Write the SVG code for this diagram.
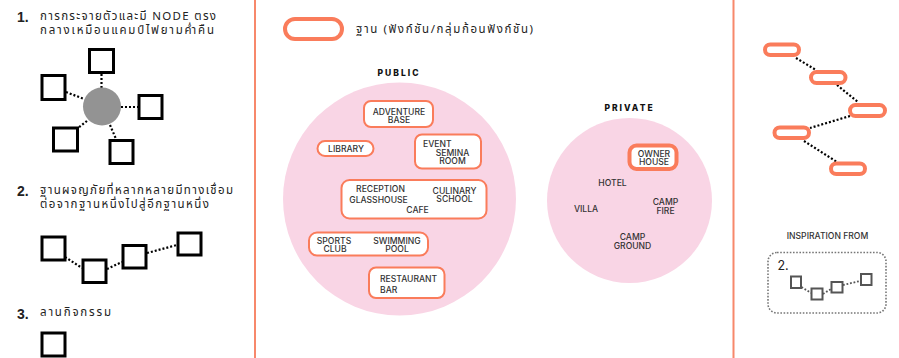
<svg xmlns="http://www.w3.org/2000/svg" width="899" height="358" viewBox="0 0 899 358">
<style>
.num{font-family:"Liberation Sans",Arial,sans-serif;font-weight:bold;font-size:14px;fill:#222}
.th{font-family:"Noto Sans Thai","Noto Sans","DejaVu Sans",sans-serif;font-size:11.5px;fill:#222}
.sq{fill:#fff;stroke:#000;stroke-width:3}
.dot{stroke:#000;stroke-width:2.2;stroke-dasharray:2 2;fill:none}
.pill{fill:#fff;stroke:#fa7c5b;stroke-width:2}
.pillr{fill:#fff;stroke:#fa7c5b;stroke-width:4}
.lbl{font-family:Inter,"Noto Sans",sans-serif;font-weight:500;font-size:8.6px;fill:#333;text-anchor:middle}
.lbll{font-family:Inter,"Noto Sans",sans-serif;font-weight:500;font-size:8.6px;fill:#333}
.head{font-family:Inter,"Noto Sans",sans-serif;font-weight:800;font-size:8.5px;letter-spacing:2px;fill:#111;text-anchor:middle}
.zone{fill:#f9d5e5}
.gsq{fill:#fff;stroke:#555;stroke-width:2}
.gdot{stroke:#555;stroke-width:1.8;stroke-dasharray:1.8 1.8;fill:none}
</style>

<!-- dividers -->
<g id="dividers">
<line x1="255" y1="0" x2="255" y2="358" stroke="#f7886b" stroke-width="2"/>
<line x1="733.5" y1="0" x2="733.5" y2="358" stroke="#f7886b" stroke-width="2"/>
</g>

<!-- section 1 -->
<g id="sec1">
<text class="num" x="17" y="22">1.</text>
<text class="th" x="40" y="20" textLength="176" lengthAdjust="spacing">การกระจายตัวและมี NODE ตรง</text>
<text class="th" x="40" y="34" textLength="174" lengthAdjust="spacing">กลางเหมือนแคมป์ไฟยามค่ำคืน</text>
</g>
<g id="star-connectors">
<line class="dot" x1="101.5" y1="74" x2="101.5" y2="88"/>
<line class="dot" x1="66" y1="92" x2="84" y2="99"/>
<line class="dot" x1="121" y1="107" x2="138" y2="107"/>
<line class="dot" x1="87" y1="121" x2="78" y2="128"/>
<line class="dot" x1="110" y1="125" x2="116" y2="139"/>
</g>
<g id="star-hub"><circle cx="102" cy="106.5" r="19" fill="#939393"/></g>
<g id="star-n1"><rect class="sq" x="89.5" y="49.5" width="24" height="23"/></g>
<g id="star-n2"><rect class="sq" x="42" y="75.5" width="23" height="24"/></g>
<g id="star-n3"><rect class="sq" x="139" y="95.5" width="23" height="23"/></g>
<g id="star-n4"><rect class="sq" x="53.5" y="128" width="24" height="23"/></g>
<g id="star-n5"><rect class="sq" x="110" y="140.5" width="23" height="23"/></g>

<!-- section 2 -->
<g id="sec2">
<text class="num" x="17" y="196">2.</text>
<text class="th" x="40" y="194" textLength="193" lengthAdjust="spacing">ฐานผจญภัยที่หลากหลายมีทางเชื่อม</text>
<text class="th" x="40" y="208" textLength="169" lengthAdjust="spacing">ต่อจากฐานหนึ่งไปสู่อีกฐานหนึ่ง</text>
</g>
<g id="chain-connectors">
<line class="dot" x1="65" y1="257" x2="82" y2="268"/>
<line class="dot" x1="107" y1="269" x2="122" y2="262"/>
<line class="dot" x1="147" y1="253" x2="177" y2="245"/>
</g>
<g id="chain-n1"><rect class="sq" x="42" y="237" width="23" height="23"/></g>
<g id="chain-n2"><rect class="sq" x="83" y="260" width="23" height="22.5"/></g>
<g id="chain-n3"><rect class="sq" x="123" y="245.5" width="23" height="22.5"/></g>
<g id="chain-n4"><rect class="sq" x="178" y="233" width="23" height="22"/></g>

<!-- section 3 -->
<g id="sec3">
<text class="num" x="17" y="319">3.</text>
<text class="th" x="40" y="316" textLength="71" lengthAdjust="spacing">ลานกิจกรรม</text>
</g>
<g id="plaza"><rect class="sq" x="42" y="333" width="23" height="23"/></g>

<!-- legend -->
<g id="legend">
<rect class="pillr" x="285" y="19" width="57" height="20" rx="10"/>
<text class="th" x="356" y="33" font-size="12.5" textLength="177" lengthAdjust="spacing">ฐาน (ฟังก์ชัน/กลุ่มก้อนฟังก์ชัน)</text>
</g>

<!-- public zone -->
<g id="public">
<text class="head" x="399" y="76">PUBLIC</text>
<circle class="zone" cx="399.5" cy="199" r="116.5"/>
</g>
<g id="adventure">
<rect class="pill" x="364" y="101" width="69" height="26" rx="7"/>
<text class="lbl" x="399" y="115">ADVENTURE</text>
<text class="lbl" x="399" y="122.5">BASE</text>
</g>
<g id="library">
<rect class="pill" x="317.5" y="141" width="56" height="15" rx="7.5"/>
<text class="lbl" x="346" y="152">LIBRARY</text>
</g>
<g id="event">
<rect class="pill" x="415" y="134.5" width="66" height="34" rx="7"/>
<text class="lbll" x="423" y="146.5">EVENT</text>
<text class="lbl" x="452.5" y="155.5">SEMINA</text>
<text class="lbl" x="452.5" y="164">ROOM</text>
</g>
<g id="reception">
<rect class="pill" x="341.5" y="180" width="145" height="38.5" rx="8"/>
<text class="lbl" x="380.5" y="192">RECEPTION</text>
<text class="lbl" x="378.5" y="202.5">GLASSHOUSE</text>
<text class="lbl" x="417.5" y="213">CAFE</text>
<text class="lbl" x="454.5" y="193.5">CULINARY</text>
<text class="lbl" x="454.5" y="202">SCHOOL</text>
</g>
<g id="sports">
<rect class="pill" x="309" y="232.5" width="119" height="23" rx="8"/>
<text class="lbl" x="334" y="244">SPORTS</text>
<text class="lbl" x="335" y="252">CLUB</text>
<text class="lbl" x="397" y="244">SWIMMING</text>
<text class="lbl" x="397" y="252">POOL</text>
</g>
<g id="restaurant">
<rect class="pill" x="369" y="267.5" width="75.5" height="30.5" rx="7"/>
<text class="lbll" x="380" y="282">RESTAURANT</text>
<text class="lbll" x="380" y="293">BAR</text>
</g>

<!-- private zone -->
<g id="private">
<text class="head" x="629.5" y="110.5">PRIVATE</text>
<circle class="zone" cx="629.5" cy="200.5" r="82.5"/>
</g>
<g id="owner">
<rect class="pillr" x="629.5" y="145.5" width="47" height="23.5" rx="7" stroke-width="2.5"/>
<text class="lbl" x="654" y="157">OWNER</text>
<text class="lbl" x="654" y="164.5">HOUSE</text>
</g>
<g id="hotel"><text class="lbl" x="612.5" y="185.5">HOTEL</text></g>
<g id="villa"><text class="lbl" x="586" y="212">VILLA</text></g>
<g id="campfire">
<text class="lbl" x="665.5" y="205">CAMP</text>
<text class="lbl" x="665.5" y="213.5">FIRE</text>
</g>
<g id="campground">
<text class="lbl" x="632.5" y="240">CAMP</text>
<text class="lbl" x="632.5" y="248.5">GROUND</text>
</g>

<!-- right: pill chain -->
<g id="pill-connectors">
<line class="dot" x1="796" y1="58" x2="816" y2="70"/>
<line class="dot" x1="837" y1="85" x2="858" y2="102"/>
<line class="dot" x1="850" y1="116" x2="810" y2="128"/>
<line class="dot" x1="804" y1="141" x2="837" y2="162"/>
</g>
<g id="p1"><rect class="pillr" x="765" y="44.5" width="34" height="10.5" rx="5.25"/></g>
<g id="p2"><rect class="pillr" x="811" y="72" width="34.5" height="11" rx="5.5"/></g>
<g id="p3"><rect class="pillr" x="850" y="105" width="35" height="11" rx="5.5"/></g>
<g id="p4"><rect class="pillr" x="774.5" y="127.5" width="34.5" height="10.5" rx="5.25"/></g>
<g id="p5"><rect class="pillr" x="831" y="163.5" width="34" height="10.5" rx="5.25"/></g>

<!-- inspiration -->
<g id="inspiration">
<text class="lbl" x="827.5" y="239" font-size="9.6">INSPIRATION FROM</text>
<rect x="768" y="252.5" width="118" height="60.5" rx="9" fill="none" stroke="#777" stroke-width="1.6" stroke-dasharray="1.6 1.6"/>
<text x="777.5" y="270" font-family="Inter,'Noto Sans',sans-serif" font-size="12.5" fill="#222">2.</text>
</g>
<g id="insp-connectors">
<line class="gdot" x1="801.5" y1="287" x2="811" y2="293"/>
<line class="gdot" x1="823" y1="294" x2="831" y2="289"/>
<line class="gdot" x1="843" y1="285" x2="860" y2="281"/>
</g>
<g id="i1"><rect class="gsq" x="791" y="276.5" width="10" height="11.5"/></g>
<g id="i2"><rect class="gsq" x="811.5" y="288.5" width="11" height="11"/></g>
<g id="i3"><rect class="gsq" x="831.5" y="282" width="11" height="10.5"/></g>
<g id="i4"><rect class="gsq" x="861" y="274" width="10.5" height="11"/></g>
</svg>
